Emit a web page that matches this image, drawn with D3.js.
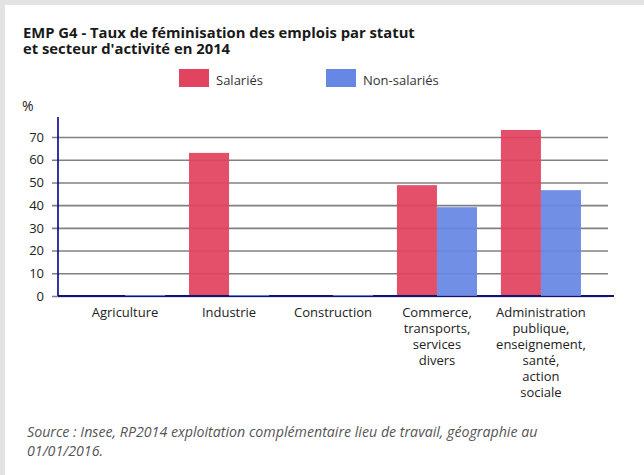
<!DOCTYPE html>
<html>
<head>
<meta charset="utf-8">
<script src="https://cdn.jsdelivr.net/npm/d3@7"></script>
<style>
body { margin: 0; background: #fff; }
svg { display: block; font-family: "Open Sans", sans-serif; }
</style>
</head>
<body>
<svg id="chart" width="644" height="475"></svg>
<script>
const categories = ["Agriculture", "Industrie", "Construction", "Commerce", "Administration"];
const categoryLines = [
	["Agriculture"],
	["Industrie"],
	["Construction"],
	["Commerce,", "transports,", "services", "divers"],
	["Administration", "publique,", "enseignement,", "santé,", "action", "sociale"]
];
const seriesNames = ["Salariés", "Non-salariés"];
const salaries = [0, 63, 0, 48.8, 73.1];
const nonSalaries = [0, 0, 0, 39.1, 46.6];
const yTicks = [0, 10, 20, 30, 40, 50, 60, 70];
const colors = ["#e2435f", "#6687e3"];

var svg = d3.select("#chart");

// grey frame, top and left
svg.append("rect").attr("x", 0).attr("y", 0).attr("width", 644).attr("height", 5).attr("fill", "#e3e3e3");
svg.append("rect").attr("x", 0).attr("y", 0).attr("width", 5).attr("height", 475).attr("fill", "#e3e3e3");

// title
const title = svg.append("text")
	.attr("x", 23)
	.attr("font-weight", "bold")
	.attr("font-size", "14.8px")
	.attr("fill", "#1a1a1a");
title.append("tspan").attr("x", 23).attr("y", 37.5).text("EMP G4 - Taux de féminisation des emplois par statut");
title.append("tspan").attr("x", 23).attr("y", 54).text("et secteur d'activité en 2014");

// legend
const legendX = [179, 326];
seriesNames.forEach(function(name, i) {
	svg.append("rect")
		.attr("x", legendX[i]).attr("y", 69)
		.attr("width", 30).attr("height", 18)
		.attr("fill", colors[i]);
	svg.append("text")
		.attr("x", legendX[i] + 37).attr("y", 84.5)
		.attr("font-size", "13px")
		.attr("fill", "#333")
		.text(name);
});

svg.append("text").attr("x", 22).attr("y", 111).attr("font-size", "14px").attr("fill", "#222").text("%");

var y = d3.scaleLinear().domain([0, 70]).range([296, 137]);
var x = d3.scaleBand().domain(categories).range([58, 608]).paddingInner(0.23).paddingOuter(0.26);
var xs = d3.scaleBand().domain(seriesNames).range([0, x.bandwidth()]);

// gridlines + tick marks
svg.append("g")
	.attr("transform", "translate(58,0)")
	.call(d3.axisLeft(y).tickValues(yTicks).tickSize(-550).tickPadding(14).tickFormat(d3.format("d")))
	.call(g => g.select(".domain").remove())
	.call(g => g.selectAll(".tick line").attr("stroke", "#808080").attr("stroke-width", 1.6).attr("x2", -6).attr("x1", 550))
	.call(g => g.selectAll(".tick text").attr("font-size", "13px").attr("fill", "#222").attr("font-family", "Open Sans"));

function drawBars(values, i) {
	svg.append("g").selectAll("rect")
		.data(values)
		.enter()
		.append("rect")
		.attr("x", (d, j) => x(categories[j]) + xs(seriesNames[i]))
		.attr("y", d => Math.min(y(d), y(0) - 1))
		.attr("width", xs.bandwidth())
		.attr("height", d => Math.max(1, y(0) - y(d)))
		.attr("fill", colors[i])
		.attr("fill-opacity", 0.93);
}

drawBars(salaries, 0);

// axes lines
svg.append("line").attr("x1", 58).attr("x2", 614).attr("y1", y(0)).attr("y2", y(0)).attr("stroke", "#141470").attr("stroke-width", 2);
svg.append("line").attr("x1", 58).attr("x2", 58).attr("y1", 117).attr("y2", y(0)).attr("stroke", "#00008b").attr("stroke-width", 1.6);

drawBars(nonSalaries, 1);

// category labels
categories.forEach(function(c, j) {
	const t = svg.append("text")
		.attr("text-anchor", "middle")
		.attr("font-size", "13px")
		.attr("fill", "#222");
	categoryLines[j].forEach(function(line, k) {
		t.append("tspan")
			.attr("x", x(c) + x.bandwidth() / 2)
			.attr("y", 316.5 + k * 16)
			.text(line);
	});
});

// source
const src = svg.append("text")
	.attr("font-style", "italic")
	.attr("font-size", "14.2px")
	.attr("fill", "#555");
src.append("tspan").attr("x", 27).attr("y", 437).text("Source : Insee, RP2014 exploitation complémentaire lieu de travail, géographie au");
src.append("tspan").attr("x", 27).attr("y", 455.5).text("01/01/2016.");
</script>
</body>
</html>
